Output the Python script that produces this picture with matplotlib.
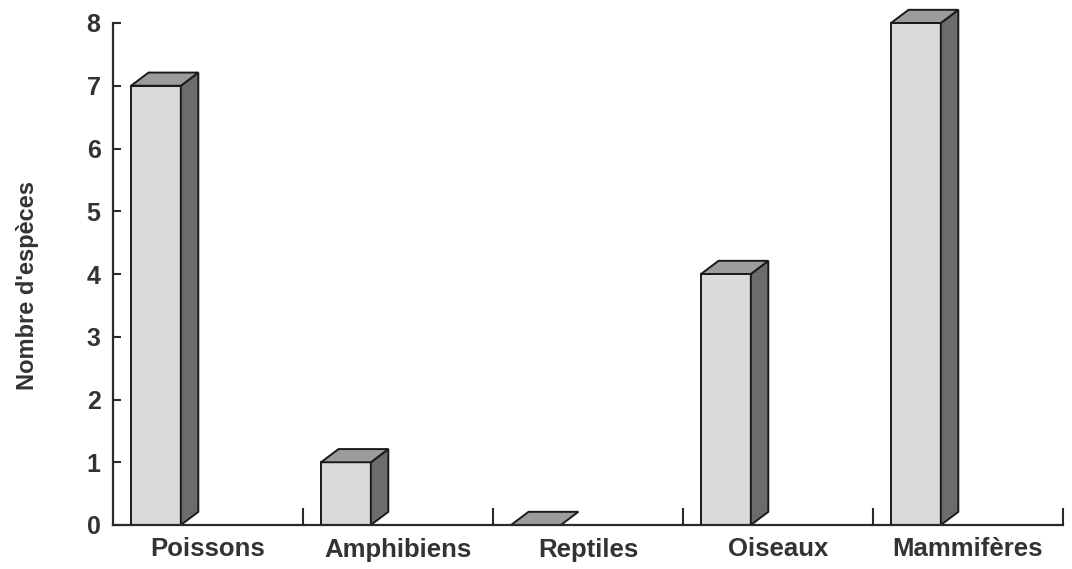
import matplotlib
matplotlib.use("Agg")
import matplotlib.pyplot as plt
from matplotlib.patches import Polygon

categories = ["Poissons", "Amphibiens", "Reptiles", "Oiseaux", "Mammifères"]
especes = [7, 1, 0, 4, 8]

# couleurs des faces des barres
face_avant = "#dadada"
face_dessus = "#9c9c9c"
face_cote = "#6c6c6c"
texte = "#333333"

plt.rcParams['font.family'] = ['Liberation Sans', 'DejaVu Sans']
plt.rcParams['font.weight'] = 'bold'


def main():
	fig = plt.figure(figsize=(10.72, 5.69), dpi=100)
	ax = fig.add_axes([113 / 1072, 44 / 569, 950 / 1072, 502 / 569])

	x0 = 0.095      # decalage de la barre dans la categorie
	w = 0.262       # largeur de la face avant
	dx = 0.092      # profondeur en x
	dy = 0.21       # profondeur en y

	for i, v in enumerate(especes):
		l = i + x0
		r = l + w
		avant = Polygon([(l, 0), (r, 0), (r, v), (l, v)], closed=True,
			facecolor=face_avant, edgecolor="#1a1a1a", lw=1.4, clip_on=False, zorder=3)
		dessus = Polygon([(l, v), (r, v), (r + dx, v + dy), (l + dx, v + dy)], closed=True,
			facecolor=face_dessus, edgecolor="#1a1a1a", lw=1.4, clip_on=False, zorder=3)
		cote = Polygon([(r, 0), (r + dx, dy), (r + dx, v + dy), (r, v)], closed=True,
			facecolor=face_cote, edgecolor="#1a1a1a", lw=1.4, clip_on=False, zorder=3)
		if v > 0:
			ax.add_patch(avant)
			ax.add_patch(cote)
		ax.add_patch(dessus)

	ax.set_xlim(0, len(categories))
	ax.set_ylim(0, 8)

	for s in ['top', 'right']:
		ax.spines[s].set_visible(False)
	for s in ['left', 'bottom']:
		ax.spines[s].set_linewidth(1.6)
		ax.spines[s].set_color("#2a2a2a")
		ax.spines[s].set_zorder(4)

	ax.set_yticks(range(0, 9))
	ax.tick_params(axis='y', direction='in', length=6, width=1.5, color="#2a2a2a",
		pad=9, labelsize=18, labelcolor=texte)

	ax.set_xticks([i + 0.5 for i in range(len(categories))])
	ax.set_xticklabels(categories)
	ax.set_xticks(range(1, len(categories) + 1), minor=True)
	ax.tick_params(axis='x', which='major', length=0, pad=9, labelsize=18.5, labelcolor=texte)
	ax.tick_params(axis='x', which='minor', direction='in', length=12, width=1.5, color="#2a2a2a")

	ax.set_ylabel("Nombre d'espèces", fontsize=17, color=texte, fontweight='bold')
	ax.yaxis.set_label_coords(-0.078, 0.478)

	fig.savefig("out.png", dpi=100)


if __name__ == '__main__':
	main()
